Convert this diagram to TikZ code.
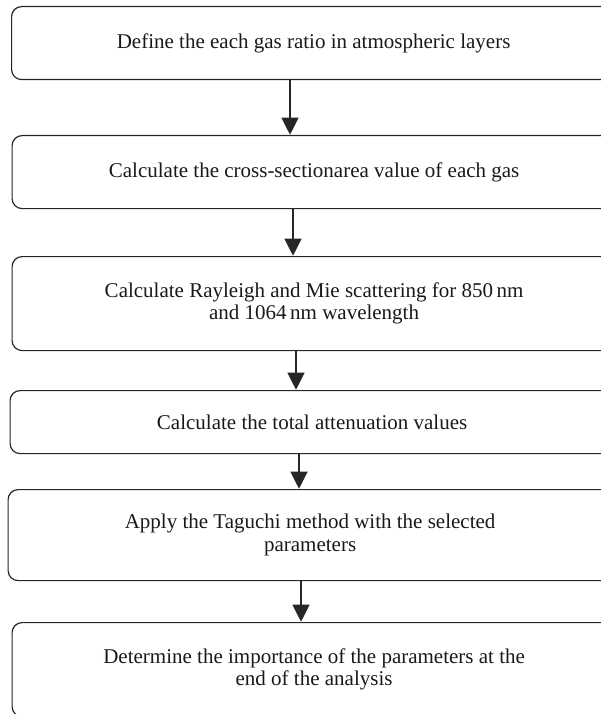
\documentclass[tikz,border=0pt]{standalone}
\usepackage{fontspec}
\setmainfont{Liberation Serif}
\usetikzlibrary{arrows.meta}
\begin{document}
\begin{tikzpicture}[x=1pt,y=-1pt,
  box/.style={draw=black!85, line width=1.2pt, rounded corners=10pt, anchor=north west,
    align=center, inner sep=0pt, font=\fontsize{21}{22.5}\selectfont, text=black!90},
  arr/.style={draw=black!85, line width=1.2pt, -{Triangle[width=17pt,length=17pt]}, shorten >=0.3pt}]
\clip (0,0) rectangle (601,714);
\node[box, minimum width=604pt, minimum height=73pt] (b1) at (11,6)
  {Define the each gas ratio in atmospheric layers};
\node[box, minimum width=604pt, minimum height=73pt] (b2) at (11.5,135)
  {Calculate the cross-sectionarea value of each gas};
\node[box, minimum width=604pt, minimum height=94pt] (b3) at (11.5,256)
  {Calculate Rayleigh and Mie scattering for 850\,nm\\and 1064\,nm wavelength};
\node[box, minimum width=604pt, minimum height=63pt] (b4) at (9.5,390)
  {Calculate the total attenuation values};
\node[box, minimum width=604pt, minimum height=91pt] (b5) at (7.5,489)
  {Apply the Taguchi method with the selected\\parameters};
\node[box, minimum width=604pt, minimum height=94pt] (b6) at (11.5,622)
  {Determine the importance of the parameters at the\\end of the analysis};
\coordinate (x1) at (290,0);
\coordinate (x2) at (293,0);
\coordinate (x3) at (296,0);
\coordinate (x4) at (299,0);
\coordinate (x5) at (301,0);
\draw[arr] (b1.south -| x1) -- (b2.north -| x1);
\draw[arr] (b2.south -| x2) -- (b3.north -| x2);
\draw[arr] (b3.south -| x3) -- (b4.north -| x3);
\draw[arr] (b4.south -| x4) -- (b5.north -| x4);
\draw[arr] (b5.south -| x5) -- (b6.north -| x5);
\end{tikzpicture}
\end{document}
